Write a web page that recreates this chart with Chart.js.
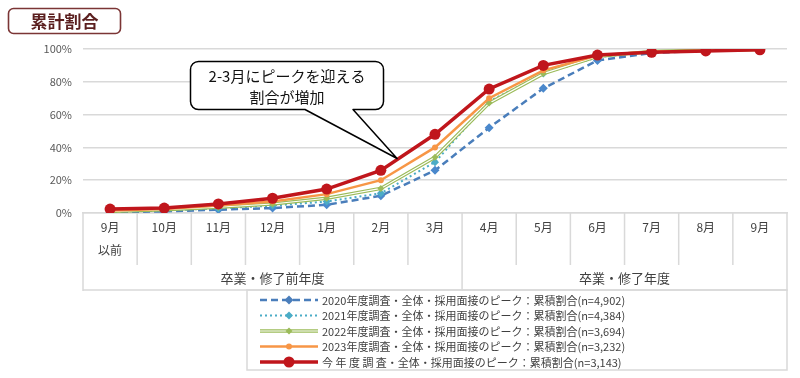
<!DOCTYPE html>
<html><head><meta charset="utf-8">
<script src="https://cdn.jsdelivr.net/npm/chart.js@4"></script>
<style>html,body{margin:0;padding:0;background:#fff}#wrap{width:800px;height:378px;position:relative}</style>
</head><body><div id="wrap"><canvas id="c" width="800" height="378"></canvas></div>
<script>
const categories = [['9月','以前'],'10月','11月','12月','1月','2月','3月','4月','5月','6月','7月','8月','9月'];
const groupLabels = ['卒業・修了前年度','卒業・修了年度'];
const groupSizes = [7, 6];
const yTicks = [0, 20, 40, 60, 80, 100];
const seriesNames = [
  '2020年度調査・全体・採用面接のピーク：累積割合(n=4,902)',
  '2021年度調査・全体・採用面接のピーク：累積割合(n=4,384)',
  '2022年度調査・全体・採用面接のピーク：累積割合(n=3,694)',
  '2023年度調査・全体・採用面接のピーク：累積割合(n=3,232)',
  '今 年 度 調 査・全体・採用面接のピーク：累積割合(n=3,143)'
];
const s2020 = [0.5, 1, 2, 3, 5, 10.5, 26, 52, 76, 93, 97.5, 99, 99.8];
const s2021 = [0.8, 1.5, 2.8, 4.5, 7, 12, 31, 68, 85, 95, 98.5, 99, 99.7];
const s2022 = [1, 2, 3.5, 5.5, 9, 15, 34, 67, 85, 95.5, 98.5, 99.2, 99.7];
const s2023 = [1.5, 2.5, 4.5, 7, 11.5, 20, 40, 70, 87, 96, 98.5, 99, 99.5];
const sNow  = [2.4, 3, 5.5, 9, 14.6, 26, 48, 75.6, 90, 96.3, 98, 98.8, 99.5];
const calloutLines = ['2-3月にピークを迎える', '割合が増加'];
const titleText = '累計割合';

const FONT = "'Noto Sans CJK JP','Noto Sans',sans-serif";
Chart.defaults.font.family = FONT;

const C2020 = '#4a7ebb', C2021 = '#4bacc6', C2022 = '#9bbb59', C2023 = '#f79646', CNOW = '#c0161c';

function drawMarker(ctx, style, x, y, r, color) {
  ctx.save();
  ctx.setLineDash([]);
  ctx.fillStyle = color;
  ctx.beginPath();
  if (style === 'rectRot') {
    ctx.moveTo(x, y - r); ctx.lineTo(x + r, y); ctx.lineTo(x, y + r); ctx.lineTo(x - r, y); ctx.closePath();
  } else {
    ctx.arc(x, y, r, 0, Math.PI * 2);
  }
  ctx.fill();
  ctx.restore();
}

const legendSpecs = [
  {color: C2020, width: 2.5, dash: [7, 4], marker: 'rectRot', r: 4.5},
  {color: C2021, width: 2, dash: [2, 3], marker: 'rectRot', r: 4},
  {color: C2022, width: 3.5, dash: [], marker: 'rectRot', r: 3.5, double: true},
  {color: C2023, width: 2.5, dash: [], marker: 'circle', r: 3},
  {color: CNOW, width: 3.5, dash: [], marker: 'circle', r: 5.5}
];

const extras = {
  id: 'extras',
  beforeDraw(chart) {
    const ctx = chart.ctx;
    ctx.save(); ctx.fillStyle = '#fff'; ctx.fillRect(0, 0, chart.width, chart.height); ctx.restore();
  },
  afterDraw(chart) {
    const ctx = chart.ctx, xs = chart.scales.x, ys = chart.scales.y, ca = chart.chartArea;
    const n = categories.length;
    const w = xs.getPixelForValue(1) - xs.getPixelForValue(0);
    const bx = i => xs.getPixelForValue(0) - w / 2 + i * w;
    const bottom = ca.bottom;
    ctx.save();
    ctx.strokeStyle = '#d9d9d9'; ctx.lineWidth = 1.5;
    // table lines
    const groupEdges = [0];
    groupSizes.reduce((a, s) => { groupEdges.push(a + s); return a + s; }, 0);
    for (let i = 0; i <= n; i++) {
      const outer = groupEdges.includes(i);
      ctx.beginPath();
      ctx.moveTo(bx(i), bottom);
      ctx.lineTo(bx(i), bottom + (outer ? 78 : 52));
      ctx.stroke();
    }
    ctx.beginPath();
    ctx.moveTo(bx(0), bottom + 77); ctx.lineTo(bx(n), bottom + 77); ctx.stroke();
    // group labels
    ctx.fillStyle = '#404040'; ctx.font = '13px ' + FONT;
    ctx.textAlign = 'center'; ctx.textBaseline = 'middle';
    for (let g = 0; g < groupLabels.length; g++) {
      const cx = (bx(groupEdges[g]) + bx(groupEdges[g + 1])) / 2;
      ctx.fillText(groupLabels[g], cx, bottom + 65);
    }
    // legend box
    const lx = 247, ly = bottom + 77, lw = bx(n) - lx, lh = 80;
    ctx.strokeRect(lx, ly, lw, lh);
    ctx.font = '11px ' + FONT; ctx.textAlign = 'left';
    for (let k = 0; k < seriesNames.length; k++) {
      const sp = legendSpecs[k];
      const yy = ly + 10 + k * 15.5;
      const x0 = 260, x1 = 318;
      ctx.save();
      ctx.strokeStyle = sp.color; ctx.lineWidth = sp.width; ctx.setLineDash(sp.dash);
      ctx.beginPath(); ctx.moveTo(x0, yy); ctx.lineTo(x1, yy); ctx.stroke();
      if (sp.double) {
        ctx.strokeStyle = '#fff'; ctx.lineWidth = 1.2;
        ctx.beginPath(); ctx.moveTo(x0, yy); ctx.lineTo(x1, yy); ctx.stroke();
      }
      ctx.restore();
      drawMarker(ctx, sp.marker, (x0 + x1) / 2, yy, sp.r, sp.color);
      ctx.fillStyle = '#404040';
      ctx.fillText(seriesNames[k], 322, yy + 0.5);
    }
    // title box
    ctx.beginPath();
    ctx.roundRect(8.5, 8.5, 112, 25, 5);
    ctx.fillStyle = '#fff'; ctx.fill();
    ctx.strokeStyle = '#7b3535'; ctx.lineWidth = 1.6; ctx.stroke();
    ctx.fillStyle = '#5b1f1f'; ctx.font = 'bold 17px ' + FONT; ctx.textAlign = 'center';
    ctx.fillText(titleText, 64.5, 21.5);
    // callout: tip anchored on the current-year line between Feb and Mar
    const t = 0.3;
    const tipX = xs.getPixelForValue(5) + t * w;
    const tipY = ys.getPixelForValue(sNow[5] + t * (sNow[6] - sNow[5])) - 1;
    const boxL = 190.5, boxT = 61.5, boxW = 193, boxH = 48, rr = 8;
    const b1 = 305, b2 = 353;
    ctx.beginPath();
    ctx.moveTo(boxL + rr, boxT);
    ctx.lineTo(boxL + boxW - rr, boxT);
    ctx.arcTo(boxL + boxW, boxT, boxL + boxW, boxT + rr, rr);
    ctx.lineTo(boxL + boxW, boxT + boxH - rr);
    ctx.arcTo(boxL + boxW, boxT + boxH, boxL + boxW - rr, boxT + boxH, rr);
    ctx.lineTo(b2, boxT + boxH);
    ctx.lineTo(tipX, tipY);
    ctx.lineTo(b1, boxT + boxH);
    ctx.lineTo(boxL + rr, boxT + boxH);
    ctx.arcTo(boxL, boxT + boxH, boxL, boxT + boxH - rr, rr);
    ctx.lineTo(boxL, boxT + rr);
    ctx.arcTo(boxL, boxT, boxL + rr, boxT, rr);
    ctx.closePath();
    ctx.fillStyle = '#fff'; ctx.fill();
    ctx.strokeStyle = '#000'; ctx.lineWidth = 1.5; ctx.lineJoin = 'round'; ctx.stroke();
    ctx.fillStyle = '#111'; ctx.font = '15px ' + FONT; ctx.textAlign = 'center';
    ctx.fillText(calloutLines[0], boxL + boxW / 2, boxT + 15);
    ctx.fillText(calloutLines[1], boxL + boxW / 2, boxT + 36);
    ctx.restore();
  }
};

new Chart(document.getElementById('c'), {
  type: 'line',
  data: {
    labels: categories,
    datasets: [
      {label: seriesNames[4], data: sNow, borderColor: CNOW, backgroundColor: CNOW, borderWidth: 3.5,
       pointStyle: 'circle', pointRadius: 5.5, pointBorderWidth: 0, order: 0},
      {label: seriesNames[3], data: s2023, borderColor: C2023, backgroundColor: C2023, borderWidth: 2.5,
       pointStyle: 'circle', pointRadius: 3, pointBorderWidth: 0, order: 1},
      {label: seriesNames[2] + ' inner', data: s2022, borderColor: '#fff', backgroundColor: C2022, borderWidth: 1.2,
       pointStyle: 'rectRot', pointRadius: 3.5, pointBorderWidth: 0, order: 2},
      {label: seriesNames[2], data: s2022, borderColor: C2022, backgroundColor: C2022, borderWidth: 3.5,
       pointRadius: 0, order: 3},
      {label: seriesNames[1], data: s2021, borderColor: C2021, backgroundColor: C2021, borderWidth: 2, borderDash: [2, 3],
       pointStyle: 'rectRot', pointRadius: 4, pointBorderWidth: 0, order: 4},
      {label: seriesNames[0], data: s2020, borderColor: C2020, backgroundColor: '#4a88cc', borderWidth: 2.5, borderDash: [7, 4],
       pointStyle: 'rectRot', pointRadius: 4.5, pointBorderWidth: 0, order: 5}
    ]
  },
  options: {
    responsive: false,
    animation: false,
    devicePixelRatio: 1,
    layout: {padding: {left: 0, right: 13, top: 49, bottom: 0}},
    plugins: {legend: {display: false}, tooltip: {enabled: false}},
    elements: {line: {tension: 0}},
    scales: {
      x: {
        offset: true,
        grid: {display: false, drawTicks: false},
        border: {display: true, color: '#d9d9d9', width: 1.5},
        ticks: {color: '#404040', font: {size: 12, lineHeight: 1.92}, padding: 2.5, maxRotation: 0, autoSkip: false},
        afterFit(s) { s.height = 165; }
      },
      y: {
        min: 0, max: 100,
        afterBuildTicks(s) { s.ticks = yTicks.map(v => ({value: v})); },
        ticks: {callback: v => v + '%', color: '#595959', font: {size: 11}, padding: 11},
        grid: {color: '#d9d9d9', lineWidth: 1.5, drawTicks: false},
        border: {display: false},
        afterFit(s) { s.width = 83; }
      }
    }
  },
  plugins: [extras]
});
</script>
</body></html>
